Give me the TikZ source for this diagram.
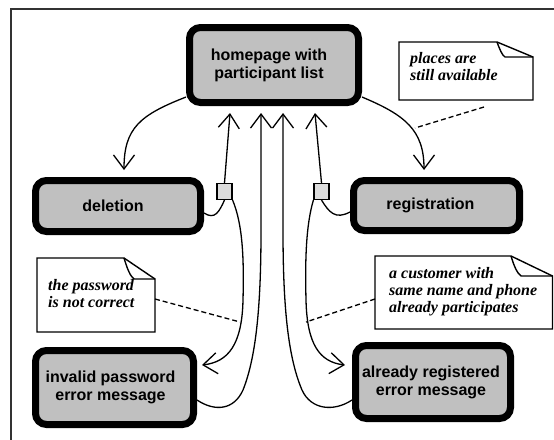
\documentclass[tikz,border=0pt]{standalone}
\usepackage{fontspec}
\setmainfont{Liberation Serif}
\newfontfamily\arialf{Liberation Sans}
\usetikzlibrary{arrows.meta,calc}
\definecolor{boxgray}{HTML}{C0C0C0}
\definecolor{portgray}{HTML}{DCDCDC}
\definecolor{framegray}{HTML}{333333}
\newcommand\padR[1]{\hspace*{#1}}
\tikzset{
  screen/.style={draw=black, line width=7pt, fill=boxgray, rounded corners=11pt,
    font=\arialf\bfseries\fontsize{16}{18}\selectfont, align=center, inner sep=0pt},
  port/.style={draw=black, line width=1.2pt, fill=portgray, minimum width=15pt, minimum height=16pt, inner sep=0pt},
  conn/.style={line width=1.3pt, -{Straight Barb[length=14pt,width=21pt,line width=1.3pt]}},
  plain/.style={line width=1.3pt},
  notebox/.style={draw=black, line width=1.4pt, fill=white, line join=miter},
  notetext/.style={font=\bfseries\itshape\fontsize{16}{17}\selectfont, align=left, inner sep=0pt, anchor=north west},
  dashline/.style={line width=1.3pt, dash pattern=on 5pt off 3pt}
}
\begin{document}
\begin{tikzpicture}[x=1pt,y=-1pt]
\useasboundingbox (0,0) rectangle (554,439);
% frame
\draw[framegray, line width=1.2pt] (11,445) -- (11,9) -- (560,9);

% screens
\node[screen, minimum width=169pt, minimum height=75pt] (home) at (274,65) {homepage with\padR{10pt}\\participant list\padR{10pt}};
\node[screen, minimum width=165pt, minimum height=51pt] (del) at (118,206) {deletion\padR{10pt}};
\node[screen, minimum width=166pt, minimum height=50pt] (reg) at (436.5,205.5) {registration\padR{12pt}};
\node[screen, minimum width=158pt, minimum height=74pt] (inv) at (114.5,387.5) {invalid password\padR{8pt}\\error message\padR{8pt}};
\node[screen, minimum width=155pt, minimum height=73pt] (alr) at (433,382) {already registered\padR{4pt}\\error message\padR{4pt}};

% ports
\node[port] (sqL) at (224.5,191.5) {};
\node[port] (sqR) at (321.5,191.5) {};

% tips
\coordinate (tDel) at (124,170);
\coordinate (tReg) at (424,170);
\coordinate (tH1) at (230,113);
\coordinate (tH2) at (261,113);
\coordinate (tH3) at (283,113);
\coordinate (tH4) at (315,113);
\coordinate (tInv) at (202,365);
\coordinate (tAlr) at (345,365);

% home -> deletion / registration
\draw[conn] (home.200) .. controls (140,115) and (124,128) .. (tDel);
\draw[conn] (home.-20) .. controls (405,115) and (424,130) .. (tReg);

% deletion port
\draw[plain] (del.east |- 0,213) .. controls (215,220) and (219,212) .. (sqL.south);
\draw[conn] (sqL.north) -- (tH1);
\draw[conn] (sqL.south east) .. controls (243,225) and (244,260) .. (243,300)
  .. controls (242,345) and (228,362) .. (tInv);

% registration port
\draw[plain] (reg.west |- 0,212) .. controls (335,220) and (329,212) .. (sqR.south);
\draw[conn] (sqR.north) -- (tH4);
\draw[conn] (sqR.south west) .. controls (306,225) and (305,260) .. (306,300)
  .. controls (307,345) and (320,362) .. (tAlr);

% error messages back to homepage
\draw[conn] (inv.east |- 0,400) .. controls (215,412) and (234,410) .. (243,390)
  .. controls (257,355) and (261,300) .. (261,230) -- (tH2);
\draw[conn] (alr.west |- 0,400) .. controls (334,412) and (311,410) .. (302,390)
  .. controls (287,355) and (283,300) .. (283,230) -- (tH3);

% notes
\draw[notebox] (399,42) -- (497,42) -- (533,57) -- (533,100) -- (399,100) -- cycle;
\draw[line width=1.4pt] (497,42) .. controls (500,50) and (502,55) .. (505,57) -- (533,57);
\node[notetext] (n1) at (410,52) {places are\\still available};

\draw[notebox] (37,258) -- (124,258) -- (155,279) -- (155,332) -- (37,332) -- cycle;
\draw[line width=1.4pt] (124,258) .. controls (127,268) and (130,276) .. (134,279) -- (155,279);
\node[notetext] (n2) at (48,279) {the password\\is not correct};

\draw[notebox] (375,256) -- (511,256) -- (552.5,276) -- (552.5,329) -- (375,329) -- cycle;
\draw[line width=1.4pt] (511,256) .. controls (514,266) and (517,273) .. (521,276) -- (552.5,276);
\node[notetext] (n3) at (389,267) {a customer with\\same name and phone\\already participates};

% dashed note connectors
\coordinate (d1a) at (484,107); \coordinate (d1b) at (415,128);
\coordinate (d2a) at (155,299); \coordinate (d2b) at (240,322);
\coordinate (d3a) at (375,299); \coordinate (d3b) at (306,322);
\draw[dashline] (d1a) -- (d1b);
\draw[dashline] (d2a) -- (d2b);
\draw[dashline] (d3a) -- (d3b);
\end{tikzpicture}
\end{document}
